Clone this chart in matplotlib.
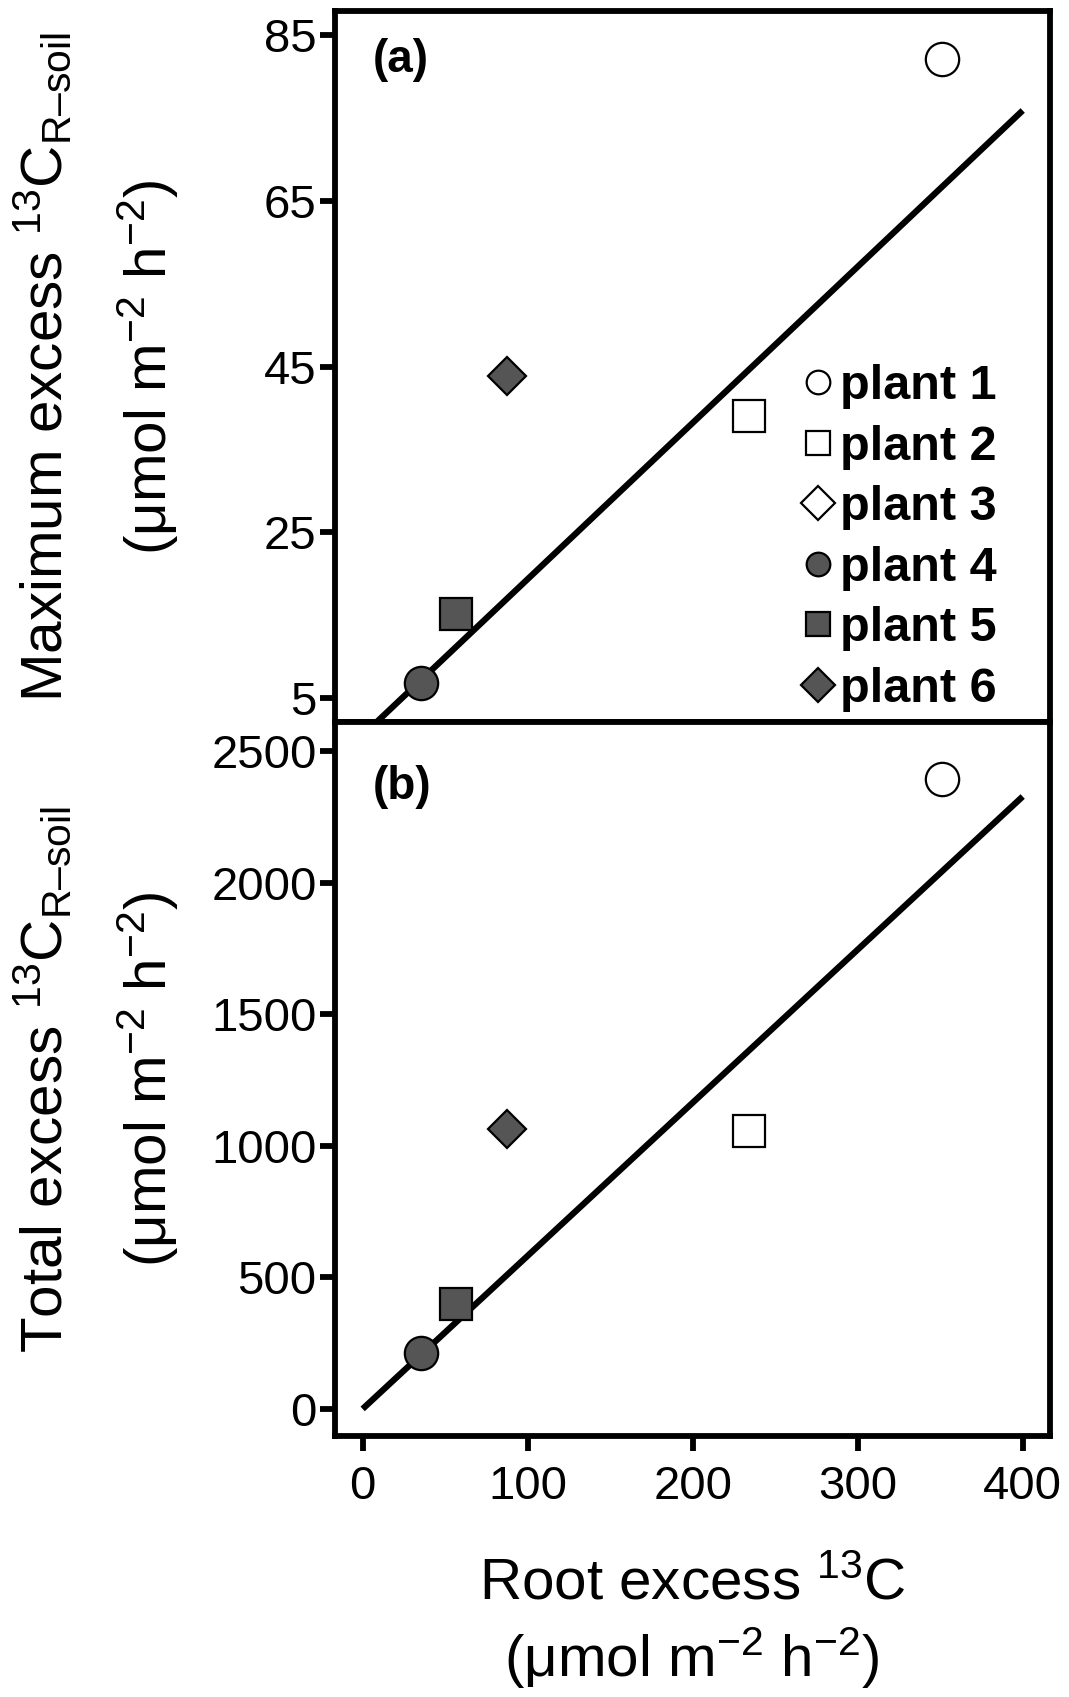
import numpy as np
import matplotlib
matplotlib.use("Agg")
import matplotlib.pyplot as plt
from matplotlib.lines import Line2D

plt.rcParams['font.family'] = ['Liberation Sans', 'DejaVu Sans']
plt.rcParams['mathtext.fontset'] = 'custom'
plt.rcParams['mathtext.rm'] = 'Liberation Sans'
plt.rcParams['mathtext.it'] = 'Liberation Sans:italic'
plt.rcParams['mathtext.bf'] = 'Liberation Sans:bold'

# data (plant 3 has no visible point)
plants = ['plant 1', 'plant 2', 'plant 3', 'plant 4', 'plant 5', 'plant 6']
root_excess = [351, 234, np.nan, 35.5, 56.5, 87.4]
max_excess = [82.1, 39.0, np.nan, 6.8, 15.2, 43.9]
total_excess = [2393, 1057, np.nan, 214, 399, 1065]
markers = ['o', 's', 'D', 'o', 's', 'D']
fills = ['white', 'white', 'white', '#555555', '#555555', '#555555']

# fitted lines (intercept, slope)
fit_a = (0.5, 0.1885)
fit_b = (0.0, 5.82)
fit_x = [0, 400]

yticks_a = [5, 25, 45, 65, 85]
yticks_b = [0, 500, 1000, 1500, 2000, 2500]
xticks = [0, 100, 200, 300, 400]

fig = plt.figure(figsize=(10.69, 16.97), dpi=100)
ax_a = fig.add_axes([0.313, 0.5745, 0.669, 0.419])
ax_b = fig.add_axes([0.313, 0.1538, 0.669, 0.4207])

sizes = {'o': 24, 's': 23, 'D': 19}

def draw(ax, yvals, fit):
    xs = np.array(fit_x)
    ax.plot(xs, fit[0] + fit[1] * xs, color='black', lw=4.5, solid_capstyle='butt', zorder=2)
    for i in range(len(plants)):
        ax.plot(root_excess[i], yvals[i], marker=markers[i], ms=sizes[markers[i]],
                mfc=fills[i], mec='black', mew=1.6, ls='none', zorder=3)
    for s in ax.spines.values():
        s.set_linewidth(4.2)
    ax.tick_params(width=4.2, length=11, labelsize=34, direction='out', pad=2)
    ax.set_xlim(-17, 416.4)

draw(ax_a, max_excess, fit_a)
draw(ax_b, total_excess, fit_b)

ax_a.set_ylim(2.1, 87.9)
ax_a.set_yticks(yticks_a)
ax_a.set_xticks([])
ax_b.set_ylim(-103, 2611)
ax_b.set_yticks(yticks_b)
ax_b.set_xticks(xticks)
ax_b.tick_params(axis='x', pad=10)

ax_a.text(0.053, 0.931, '(a)', transform=ax_a.transAxes, fontsize=33,
          fontweight='bold', va='center', ha='left')
ax_b.text(0.053, 0.909, '(b)', transform=ax_b.transAxes, fontsize=33,
          fontweight='bold', va='center', ha='left')

handles = [Line2D([], [], marker=markers[i], ms=17, mfc=fills[i], mec='black',
                  mew=1.6, ls='none') for i in range(len(plants))]
ax_a.legend(handles, plants, loc='lower right', bbox_to_anchor=(0.96, -0.02),
            frameon=False, prop={'size': 35, 'weight': 'bold'},
            handlelength=0.6, handletextpad=0.15, labelspacing=0.32, borderpad=0)

sub = '$_{\\mathrm{R\u2013soil}}$'
unit = r'($\mathrm{\mu}$mol m$^{-2}$ h$^{-2}$)'
fig.text(0.040, 0.7835, r'Maximum excess $^{13}$C' + sub, rotation=90,
         fontsize=42, ha='center', va='center')
fig.text(0.139, 0.7835, unit, rotation=90, fontsize=42, ha='center', va='center')
fig.text(0.040, 0.364, r'Total excess $^{13}$C' + sub, rotation=90,
         fontsize=42, ha='center', va='center')
fig.text(0.139, 0.364, unit, rotation=90, fontsize=42, ha='center', va='center')
fig.text(0.6475, 0.066, r'Root excess $^{13}$C', fontsize=42, ha='center', va='center')
fig.text(0.6475, 0.023, unit, fontsize=42, ha='center', va='center')

fig.savefig('out.png', dpi=100)
